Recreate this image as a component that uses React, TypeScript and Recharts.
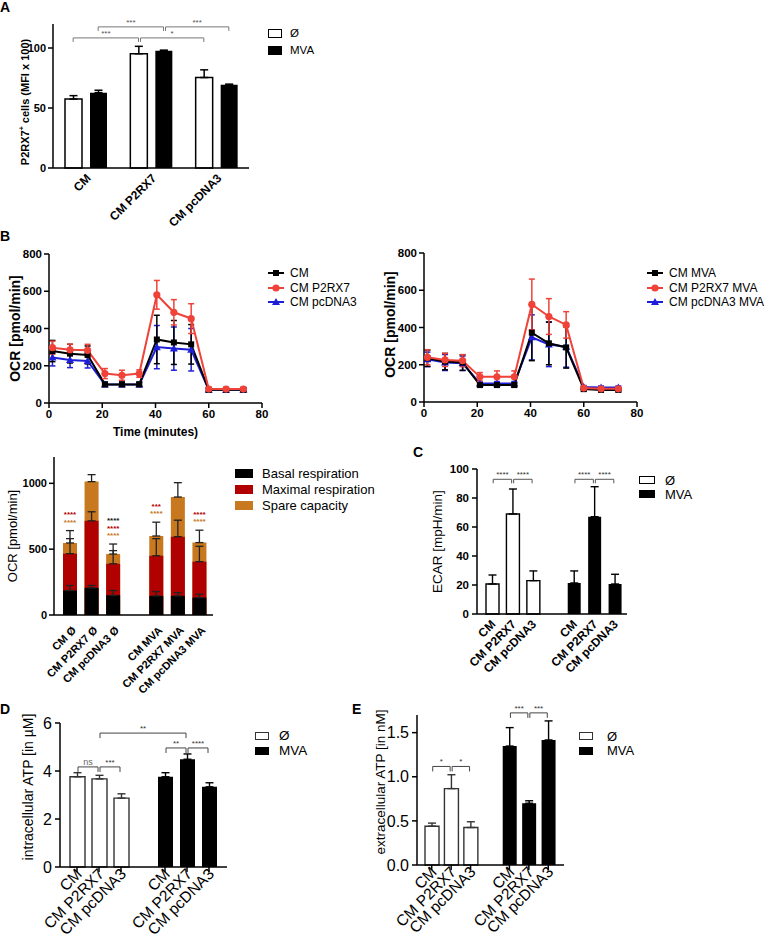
import React from "react";
import {
  Bar,
  BarChart,
  ErrorBar,
  LabelList,
  Legend,
  Line,
  LineChart,
  ReferenceLine,
  XAxis,
  YAxis,
} from "recharts";

const FONT = "'Liberation Sans', Arial, Helvetica, sans-serif";
const AXIS = { stroke: "#000", strokeWidth: 1.5 };

// ---------- A: P2RX7+ cells ----------
const aCategories = ["CM", "CM P2RX7", "CM pcDNA3"];
const aEmpty = [57.5, 95.2, 75.4];
const aEmptyErr = [2.8, 6.2, 6.4];
const aMva = [62.8, 97.8, 69.3];
const aMvaErr = [2, 0.4, 0.6];
const aTicks = [0, 50, 100];
const aBrackets = [
  { from: "CM", to: "CM P2RX7", y: 108.4, text: "***", series: "empty" },
  { from: "CM P2RX7", to: "CM pcDNA3", y: 108.4, text: "*", series: "empty" },
  { from: "CM", to: "CM P2RX7", y: 117.6, text: "***", series: "mva" },
  { from: "CM P2RX7", to: "CM pcDNA3", y: 117.6, text: "***", series: "mva" },
];

// ---------- B: OCR time courses ----------
const bTime = [1.3, 7.9, 14.5, 21, 27.4, 33.9, 40.5, 46.9, 53.4, 60, 66.5, 73];
const bCm = [279, 265, 258, 100, 100, 100, 341, 325, 315, 71, 71, 71];
const bCmErr = [57, 50, 48, 12, 12, 12, 130, 118, 106, 10, 10, 10];
const bP2 = [297, 286, 283, 158, 149, 158, 581, 487, 453, 75, 75, 75];
const bP2Err = [35, 30, 32, 27, 27, 20, 77, 68, 80, 8, 8, 8];
const bPc = [244, 231, 226, 100, 100, 100, 300, 292, 286, 71, 71, 71];
const bPcErr = [45, 41, 38, 10, 10, 10, 116, 116, 114, 8, 8, 8];

const bCmMva = [235, 217, 212, 91, 91, 91, 372, 315, 293, 69, 65, 65];
const bCmMvaErr = [44, 44, 42, 12, 12, 12, 150, 115, 111, 10, 10, 10];
const bP2Mva = [240, 226, 222, 135, 135, 135, 524, 459, 414, 75, 71, 71];
const bP2MvaErr = [40, 35, 32, 23, 32, 32, 136, 96, 71, 8, 8, 8];
const bPcMva = [229, 212, 208, 100, 100, 100, 347, 309, 297, 80, 78, 78];
const bPcMvaErr = [39, 43, 39, 10, 10, 10, 121, 119, 110, 8, 8, 8];
const bTimeTicks = [0, 20, 40, 60, 80];
const bOcrTicks = [0, 200, 400, 600, 800];

// ---------- B: respiration bars ----------
const sCategories = ["CM Ø", "CM P2RX7 Ø", "CM pcDNA3 Ø", "CM MVA", "CM P2RX7 MVA", "CM pcDNA3 MVA"];
const sBasal = [186, 206, 150, 145, 145, 132];
const sBasalErr = [38, 18, 36, 33, 25, 26];
const sMaximal = [466, 715, 389, 450, 595, 405];
const sMaximalErr = [114, 69, 100, 130, 125, 117];
const sSpare = [547, 1013, 463, 600, 896, 550];
const sSpareErr = [94, 53, 76, 105, 109, 94];
const sStarsBasal = ["", "", "****", "", "", ""];
const sStarsMaximal = ["****", "", "****", "***", "", "****"];
const sStarsSpare = ["****", "", "****", "****", "", "****"];
const sTicks = [0, 500, 1000];

// ---------- C / D / E ----------
const groupLabels = ["CM", "CM P2RX7", "CM pcDNA3"];

const cEmpty = [20.7, 69, 23];
const cEmptyErr = [6.2, 17.2, 6.7];
const cMva = [21.4, 67.1, 20.7];
const cMvaErr = [8.3, 20.7, 6.7];
const cTicks = [0, 20, 40, 60, 80, 100];
const cBrackets = [
  { from: "CM#0", to: "CM P2RX7#0", y: 92.9, text: "****" },
  { from: "CM P2RX7#0", to: "CM pcDNA3#0", y: 92.9, text: "****" },
  { from: "CM#1", to: "CM P2RX7#1", y: 92.9, text: "****" },
  { from: "CM P2RX7#1", to: "CM pcDNA3#1", y: 92.9, text: "****" },
];

const dEmpty = [3.76, 3.67, 2.87];
const dEmptyErr = [0.17, 0.15, 0.18];
const dMva = [3.76, 4.49, 3.34];
const dMvaErr = [0.17, 0.22, 0.17];
const dTicks = [0, 2, 4, 6];
const dBrackets = [
  { from: "CM#0", to: "CM P2RX7#0", y: 4.17, text: "ns" },
  { from: "CM P2RX7#0", to: "CM pcDNA3#0", y: 4.17, text: "***" },
  { from: "CM P2RX7#0", to: "CM P2RX7#1", y: 5.58, text: "**" },
  { from: "CM#1", to: "CM P2RX7#1", y: 4.96, text: "**" },
  { from: "CM P2RX7#1", to: "CM pcDNA3#1", y: 4.96, text: "****" },
];

const eEmpty = [0.44, 0.866, 0.425];
const eEmptyErr = [0.035, 0.157, 0.065];
const eMva = [1.348, 0.7, 1.417];
const eMvaErr = [0.209, 0.028, 0.216];
const eTicks = [0, 0.5, 1, 1.5];
const eBrackets = [
  { from: "CM#0", to: "CM P2RX7#0", y: 1.117, text: "*" },
  { from: "CM P2RX7#0", to: "CM pcDNA3#0", y: 1.117, text: "*" },
  { from: "CM#1", to: "CM P2RX7#1", y: 1.724, text: "***" },
  { from: "CM P2RX7#1", to: "CM pcDNA3#1", y: 1.724, text: "***" },
];

// ---------- helpers ----------
function yTitle(text: React.ReactNode, dx: number, size: number, weight: number, dy = 0) {
  return {
    content: (p: any) => {
      const vb = p.viewBox || { x: 0, y: 0, width: 0, height: 0 };
      const x = vb.x + dx;
      const y = vb.y + vb.height / 2 + dy;
      return (
        <text
          x={x}
          y={y}
          transform={`rotate(-90 ${x} ${y})`}
          textAnchor="middle"
          dominantBaseline="central"
          fontSize={size}
          fontWeight={weight}
          fontFamily={FONT}
          fill="#000"
        >
          {text}
        </text>
      );
    },
  };
}

function RotTick(props: any) {
  const { x, y, payload, fs, fw, dx = 0, dy = 0, mark } = props;
  const label = String(payload?.value ?? "").split("#")[0];
  if (!label || label === "gap") return null;
  const tx = x + dx;
  const ty = y + dy;
  return (
    <g>
      {mark && <line x1={x} x2={x} y1={y - 7} y2={y - 2} stroke="#000" strokeWidth={1.5} />}
      <text
        x={tx}
        y={ty}
        transform={`rotate(-45 ${tx} ${ty})`}
        textAnchor="end"
        fontSize={fs}
        fontWeight={fw}
        fontFamily={FONT}
        fill="#000"
      >
        {label}
      </text>
    </g>
  );
}

type BracketStyle = {
  color: string;
  textColor: string;
  fontSize: number;
  tick: number;
  dx1?: number;
  dx2?: number;
};

function bracketShape(text: string, s: BracketStyle) {
  return (p: any) => {
    const x1 = p.x1 + (s.dx1 ?? 0);
    const x2 = p.x2 + (s.dx2 ?? 0);
    const y = p.y1;
    return (
      <g>
        <path
          d={`M${x1},${y + s.tick}V${y}H${x2}V${y + s.tick}`}
          fill="none"
          stroke={s.color}
          strokeWidth={1}
        />
        <text
          x={(x1 + x2) / 2}
          y={y - 2}
          textAnchor="middle"
          fontSize={s.fontSize}
          fill={s.textColor}
          fontFamily={FONT}
        >
          {text}
        </text>
      </g>
    );
  };
}

function BoxLegend({ items, boxW, boxH, gap, rowH, fontSize }: any) {
  return (
    <div style={{ fontFamily: FONT, fontSize, color: "#000", lineHeight: 1 }}>
      {items.map((it: any) => (
        <div key={it.label} style={{ display: "flex", alignItems: "center", height: rowH }}>
          <span
            style={{
              display: "inline-block",
              width: boxW,
              height: boxH,
              background: it.fill,
              border: `1.2px solid ${it.stroke}`,
              boxSizing: "border-box",
            }}
          />
          <span style={{ marginLeft: gap, whiteSpace: "nowrap" }}>{it.label}</span>
        </div>
      ))}
    </div>
  );
}

function Marker({ kind, cx, cy, color }: any) {
  if (cx == null || cy == null) return null;
  if (kind === "square") return <rect x={cx - 3} y={cy - 3} width={6} height={6} fill={color} />;
  if (kind === "circle") return <circle cx={cx} cy={cy} r={3.6} fill={color} />;
  return <polygon points={`${cx},${cy - 4} ${cx - 4},${cy + 3} ${cx + 4},${cy + 3}`} fill={color} />;
}

function LineLegend({ items }: any) {
  return (
    <div style={{ fontFamily: FONT, fontSize: 12, color: "#000", lineHeight: 1 }}>
      {items.map((it: any) => (
        <div key={it.label} style={{ display: "flex", alignItems: "center", height: 14.5 }}>
          <svg width={16} height={10}>
            <line x1={0} x2={16} y1={5} y2={5} stroke={it.color} strokeWidth={2} />
            <Marker kind={it.marker} cx={8} cy={5} color={it.color} />
          </svg>
          <span style={{ marginLeft: 6, whiteSpace: "nowrap" }}>{it.label}</span>
        </div>
      ))}
    </div>
  );
}

const LEG = { layout: "vertical" as const, align: "center" as const, verticalAlign: "middle" as const };

// ---------- Panel A ----------
const A_BAR = 17;
const A_GAP = 8;
const rowsA = aCategories.map((c, i) => ({
  cat: c,
  empty: aEmpty[i],
  emptyErr: [0, aEmptyErr[i]],
  mva: aMva[i],
  mvaErr: [0, aMvaErr[i]],
}));

function PanelA() {
  const half = (A_BAR + A_GAP) / 2;
  return (
    <div style={{ position: "absolute", left: 0, top: 0 }}>
      <BarChart
        width={420}
        height={235}
        data={rowsA}
        margin={{ top: 24, right: 171, bottom: 7, left: 0 }}
        barSize={A_BAR}
        barGap={A_GAP}
      >
        <XAxis
          dataKey="cat"
          height={60}
          axisLine={AXIS}
          tickLine={false}
          interval={0}
          tick={<RotTick fs={12} fw={700} dx={6} dy={3} />}
        />
        <YAxis
          width={53}
          domain={[0, 120]}
          ticks={aTicks}
          axisLine={AXIS}
          tickLine={AXIS}
          tickSize={5}
          tick={{ fontSize: 11, fontWeight: 700, fill: "#000", fontFamily: FONT }}
          label={yTitle(
            <>
              P2RX7<tspan baselineShift="super" fontSize={7}>+</tspan> cells (MFI x 100)
            </>,
            25,
            11,
            700,
            6
          )}
        />
        <Bar dataKey="empty" name="Ø" fill="#fff" stroke="#000" strokeWidth={1.5} isAnimationActive={false}>
          <ErrorBar dataKey="emptyErr" width={4} stroke="#000" strokeWidth={1.5} direction="y" />
        </Bar>
        <Bar dataKey="mva" name="MVA" fill="#000" isAnimationActive={false}>
          <ErrorBar dataKey="mvaErr" width={4} stroke="#000" strokeWidth={1.5} direction="y" />
        </Bar>
        {aBrackets.map((b, i) => {
          const off = b.series === "empty" ? -half : half;
          const inset = i === 1 || i === 3 ? 2 : 0;
          return (
            <ReferenceLine
              key={`ab${i}`}
              segment={[
                { x: b.from, y: b.y },
                { x: b.to, y: b.y },
              ]}
              ifOverflow="visible"
              shape={bracketShape(b.text, {
                color: "#777",
                textColor: "#555",
                fontSize: 8,
                tick: 4,
                dx1: off + inset,
                dx2: off,
              })}
            />
          );
        })}
        <Legend
          {...LEG}
          wrapperStyle={{ left: 268, top: 25, width: "auto" }}
          content={() => (
            <BoxLegend
              items={[
                { label: "Ø", fill: "#fff", stroke: "#000" },
                { label: "MVA", fill: "#000", stroke: "#000" },
              ]}
              boxW={14}
              boxH={9}
              gap={8}
              rowH={17}
              fontSize={11.5}
            />
          )}
        />
      </BarChart>
    </div>
  );
}

// ---------- Panel B line charts ----------
function OcrLines({ left, top, width, height, margin, yWidth, titleDx, titleDy, xTitle, xHeight, legendLeft, legendTop, series }: any) {
  const rows = bTime.map((t, i) => {
    const r: any = { t };
    series.forEach((s: any) => {
      r[s.key] = s.values[i];
      r[`${s.key}Err`] = s.errors[i];
    });
    return r;
  });
  // draw order: blue, black, red
  const order = [2, 0, 1];
  return (
    <div style={{ position: "absolute", left, top }}>
      <LineChart width={width} height={height} data={rows} margin={margin}>
        <XAxis
          dataKey="t"
          type="number"
          domain={[0, 80]}
          ticks={bTimeTicks}
          height={xHeight}
          axisLine={AXIS}
          tickLine={AXIS}
          tickSize={5}
          tick={{ fontSize: 11.5, fontWeight: 700, fill: "#000", fontFamily: FONT }}
          label={
            xTitle
              ? {
                  content: (p: any) => {
                    const vb = p.viewBox || { x: 0, y: 0, width: 0 };
                    return (
                      <text
                        x={vb.x + vb.width / 2}
                        y={vb.y + 33}
                        textAnchor="middle"
                        fontSize={12}
                        fontWeight={700}
                        fontFamily={FONT}
                        fill="#000"
                      >
                        {xTitle}
                      </text>
                    );
                  },
                }
              : undefined
          }
        />
        <YAxis
          width={yWidth}
          domain={[0, 800]}
          ticks={bOcrTicks}
          axisLine={AXIS}
          tickLine={AXIS}
          tickSize={5}
          tick={{ fontSize: 11.5, fontWeight: 700, fill: "#000", fontFamily: FONT }}
          label={yTitle("OCR [pmol/min]", titleDx, 14, 700, titleDy)}
        />
        {order.map((idx) => {
          const s = series[idx];
          return (
            <Line
              key={s.key}
              dataKey={s.key}
              name={s.label}
              type="linear"
              stroke={s.color}
              strokeWidth={2}
              isAnimationActive={false}
              activeDot={false}
              dot={(d: any) => <Marker key={`${s.key}-${d.index}`} kind={s.marker} cx={d.cx} cy={d.cy} color={s.color} />}
            >
              <ErrorBar dataKey={`${s.key}Err`} width={3} stroke={s.color} strokeWidth={1.5} direction="y" />
            </Line>
          );
        })}
        <Legend
          {...LEG}
          wrapperStyle={{ left: legendLeft, top: legendTop, width: "auto" }}
          content={() => (
            <LineLegend items={series.map((s: any) => ({ label: s.label, color: s.color, marker: s.marker }))} />
          )}
        />
      </LineChart>
    </div>
  );
}

const BLACK = "#000";
const RED = "#ef4238";
const BLUE = "#1f1fd8";

// ---------- Panel B respiration ----------
const S_ORANGE = "#c8781e";
const S_RED = "#b00000";
const starColors = ["#111", S_RED, S_ORANGE];

const rowsS: any[] = [];
sCategories.forEach((c, i) => {
  if (i === 3) rowsS.push({ key: "gap" });
  rowsS.push({
    key: c,
    basal: sBasal[i],
    basalErr: [0, sBasalErr[i]],
    maximal: sMaximal[i],
    maximalErr: [0, sMaximalErr[i]],
    spare: sSpare[i],
    spareErr: [0, sSpareErr[i]],
    stars: [sStarsBasal[i], sStarsMaximal[i], sStarsSpare[i]],
  });
});
const barRowsS = rowsS.filter((r) => r.spare != null);

function StarRows(p: any) {
  const vb = p.viewBox || p;
  const { x, y, width, height } = vb;
  if (x == null || !height) return null;
  // match the label to its row through the plotted value
  const row =
    barRowsS.find((r) => r.spare === p.value) ?? barRowsS[p.index];
  if (!row) return null;
  const errTop = y - row.spareErr[1] * (height / row.spare);
  const list = row.stars
    .map((t: string, k: number) => ({ t, c: starColors[k] }))
    .filter((s: any) => s.t);
  const n = list.length;
  return (
    <g>
      {list.map((s: any, k: number) => (
        <text
          key={k}
          x={x + width / 2}
          y={errTop - 6 - (n - 1 - k) * 7.5}
          textAnchor="middle"
          fontSize={8}
          fontWeight={700}
          fill={s.c}
          fontFamily={FONT}
        >
          {s.t}
        </text>
      ))}
    </g>
  );
}

function PanelStacked() {
  const pad = { left: 5, right: 3 };
  return (
    <div style={{ position: "absolute", left: 0, top: 445 }}>
      <BarChart width={380} height={260} data={rowsS} margin={{ top: 12, right: 167, bottom: 5, left: 0 }} barSize={14}>
        <XAxis
          dataKey="key"
          height={85}
          padding={pad}
          axisLine={AXIS}
          tickLine={false}
          interval={0}
          tick={<RotTick fs={11} fw={700} dx={7} dy={8} />}
        />
        <XAxis xAxisId="r" dataKey="key" padding={pad} hide />
        <XAxis xAxisId="o" dataKey="key" padding={pad} hide />
        <YAxis
          width={54}
          domain={[0, 1200]}
          ticks={sTicks}
          axisLine={AXIS}
          tickLine={AXIS}
          tickSize={5}
          tick={{ fontSize: 11, fontWeight: 700, fill: "#000", fontFamily: FONT }}
          label={yTitle("OCR [pmol/min]", 12, 13, 400, 0)}
        />
        <Bar xAxisId="o" dataKey="spare" name="Spare capacity" fill={S_ORANGE} isAnimationActive={false}>
          <ErrorBar dataKey="spareErr" width={4} stroke="#222" strokeWidth={1.3} direction="y" />
          <LabelList dataKey="spare" content={StarRows} />
        </Bar>
        <Bar xAxisId="r" dataKey="maximal" name="Maximal respiration" fill={S_RED} isAnimationActive={false}>
          <ErrorBar dataKey="maximalErr" width={4} stroke="#222" strokeWidth={1.3} direction="y" />
        </Bar>
        <Bar dataKey="basal" name="Basal respiration" fill="#000" isAnimationActive={false}>
          <ErrorBar dataKey="basalErr" width={4} stroke="#222" strokeWidth={1.3} direction="y" />
        </Bar>
        <Legend
          {...LEG}
          wrapperStyle={{ left: 235, top: 20, width: "auto" }}
          content={() => (
            <BoxLegend
              items={[
                { label: "Basal respiration", fill: "#000", stroke: "#000" },
                { label: "Maximal respiration", fill: S_RED, stroke: S_RED },
                { label: "Spare capacity", fill: S_ORANGE, stroke: S_ORANGE },
              ]}
              boxW={18}
              boxH={9}
              gap={9}
              rowH={16}
              fontSize={13}
            />
          )}
        />
      </BarChart>
    </div>
  );
}

// ---------- C / D / E grouped panels ----------
function groupedRows(empty: number[], emptyErr: number[], mva: number[], mvaErr: number[]) {
  const rows: any[] = [];
  groupLabels.forEach((l, i) => rows.push({ key: `${l}#0`, empty: empty[i], emptyErr: [0, emptyErr[i]] }));
  rows.push({ key: "gap" });
  groupLabels.forEach((l, i) => rows.push({ key: `${l}#1`, mva: mva[i], mvaErr: [0, mvaErr[i]] }));
  return rows;
}

function GroupPanel(p: any) {
  return (
    <div style={{ position: "absolute", left: p.left, top: p.top }}>
      <BarChart width={p.width} height={p.height} data={p.rows} margin={p.margin} barSize={p.barSize}>
        <XAxis
          dataKey="key"
          height={p.xHeight}
          padding={p.padding}
          axisLine={AXIS}
          tickLine={false}
          tickSize={5}
          tickMargin={2}
          interval={0}
          tick={<RotTick fs={p.xFont} fw={p.xWeight} dx={p.xDx} dy={p.xDy} mark={p.tickMarks} />}
        />
        <XAxis xAxisId="m" dataKey="key" padding={p.padding} hide />
        <YAxis
          width={p.yWidth}
          domain={p.domain}
          ticks={p.ticks}
          axisLine={AXIS}
          tickLine={AXIS}
          tickSize={5}
          tickMargin={3}
          tickFormatter={p.tickFmt}
          tick={{ fontSize: p.yFont, fontWeight: p.yWeight, fill: "#000", fontFamily: FONT }}
          label={yTitle(p.title, p.titleDx, p.titleSize, 400, p.titleDy)}
        />
        <Bar dataKey="empty" name="Ø" fill="#fff" stroke={p.outline} strokeWidth={1.4} isAnimationActive={false}>
          <ErrorBar dataKey="emptyErr" width={4} stroke={p.outline} strokeWidth={1.4} direction="y" />
        </Bar>
        <Bar xAxisId="m" dataKey="mva" name="MVA" fill="#000" isAnimationActive={false}>
          <ErrorBar dataKey="mvaErr" width={4} stroke="#000" strokeWidth={1.4} direction="y" />
        </Bar>
        {p.brackets.map((b: any, i: number) => (
          <ReferenceLine
            key={`br${i}`}
            segment={[
              { x: b.from, y: b.y },
              { x: b.to, y: b.y },
            ]}
            ifOverflow="visible"
            shape={bracketShape(b.text, {
              color: p.bracketColor,
              textColor: b.text === "ns" ? "#666" : "#333",
              fontSize: b.text === "ns" ? 9 : 8,
              tick: p.bracketTick,
              dx1: 1,
              dx2: -1,
            })}
          />
        ))}
        <Legend
          {...LEG}
          wrapperStyle={{ left: p.legendLeft, top: p.legendTop, width: "auto" }}
          content={() => (
            <BoxLegend
              items={[
                { label: "Ø", fill: "#fff", stroke: p.outline },
                { label: "MVA", fill: "#000", stroke: "#000" },
              ]}
              boxW={p.legendBoxW}
              boxH={8}
              gap={p.legendGap}
              rowH={p.legendRow}
              fontSize={p.legendFont}
            />
          )}
        />
      </BarChart>
    </div>
  );
}

function Letter({ text, left, top }: any) {
  return (
    <div
      style={{
        position: "absolute",
        left,
        top,
        fontFamily: FONT,
        fontWeight: 700,
        fontSize: 14,
        lineHeight: 1,
        color: "#000",
      }}
    >
      {text}
    </div>
  );
}

export default function App() {
  return (
    <div
      style={{
        position: "absolute",
        left: 0,
        top: 0,
        width: 767,
        height: 941,
        background: "#fff",
        overflow: "hidden",
      }}
    >
      <Letter text="A" left={0} top={0} />
      <Letter text="B" left={0} top={229} />
      <Letter text="C" left={413} top={445} />
      <Letter text="D" left={0} top={702} />
      <Letter text="E" left={352} top={702} />

      <PanelA />

      <OcrLines
        left={0}
        top={245}
        width={380}
        height={200}
        margin={{ top: 9, right: 118, bottom: 2, left: 0 }}
        yWidth={49}
        titleDx={15}
        titleDy={0}
        xTitle="Time (minutes)"
        xHeight={40}
        legendLeft={268}
        legendTop={21}
        series={[
          { key: "cm", label: "CM", color: BLACK, marker: "square", values: bCm, errors: bCmErr },
          { key: "p2", label: "CM P2RX7", color: RED, marker: "circle", values: bP2, errors: bP2Err },
          { key: "pc", label: "CM pcDNA3", color: BLUE, marker: "triangle", values: bPc, errors: bPcErr },
        ]}
      />

      <OcrLines
        left={380}
        top={240}
        width={387}
        height={190}
        margin={{ top: 13, right: 130, bottom: 3, left: 0 }}
        yWidth={44}
        titleDx={10}
        titleDy={-3}
        xTitle={null}
        xHeight={25}
        legendLeft={267}
        legendTop={26}
        series={[
          { key: "cm", label: "CM MVA", color: BLACK, marker: "square", values: bCmMva, errors: bCmMvaErr },
          { key: "p2", label: "CM P2RX7 MVA", color: RED, marker: "circle", values: bP2Mva, errors: bP2MvaErr },
          { key: "pc", label: "CM pcDNA3 MVA", color: BLUE, marker: "triangle", values: bPcMva, errors: bPcMvaErr },
        ]}
      />

      <PanelStacked />

      <GroupPanel
        left={380}
        top={455}
        width={387}
        height={240}
        margin={{ top: 14, right: 140, bottom: 5, left: 0 }}
        rows={groupedRows(cEmpty, cEmptyErr, cMva, cMvaErr)}
        barSize={13}
        padding={{ left: 5, right: 2 }}
        xHeight={76}
        xFont={12}
        xWeight={700}
        xDx={4}
        xDy={4}
        tickMarks={false}
        yWidth={97}
        domain={[0, 100]}
        ticks={cTicks}
        yFont={11.5}
        yWeight={700}
        title="ECAR [mpH/min]"
        titleDx={57}
        titleDy={0}
        titleSize={13.5}
        outline="#000"
        brackets={cBrackets}
        bracketColor="#555"
        bracketTick={4}
        legendLeft={259}
        legendTop={18}
        legendBoxW={16}
        legendGap={10}
        legendRow={14}
        legendFont={13}
      />

      <GroupPanel
        left={0}
        top={700}
        width={380}
        height={241}
        margin={{ top: 23, right: 153, bottom: 2, left: 0 }}
        rows={groupedRows(dEmpty, dEmptyErr, dMva, dMvaErr)}
        barSize={15}
        padding={{ left: 6, right: 7 }}
        xHeight={72}
        xFont={15.5}
        xWeight={400}
        xDx={6}
        xDy={1}
        tickMarks={true}
        yWidth={60}
        domain={[0, 6]}
        ticks={dTicks}
        yFont={16}
        yWeight={400}
        title="intracellular ATP [in µM]"
        titleDx={28}
        titleDy={-8}
        titleSize={14}
        outline="#333"
        brackets={dBrackets}
        bracketColor="#444"
        bracketTick={5}
        legendLeft={255}
        legendTop={28}
        legendBoxW={14}
        legendGap={10}
        legendRow={15}
        legendFont={13.5}
      />

      <GroupPanel
        left={360}
        top={700}
        width={407}
        height={241}
        margin={{ top: 15, right: 203, bottom: 0, left: 0 }}
        rows={groupedRows(eEmpty, eEmptyErr, eMva, eMvaErr)}
        barSize={14}
        padding={{ left: 5, right: 6 }}
        xHeight={76}
        xFont={15.5}
        xWeight={400}
        xDx={6}
        xDy={1}
        tickMarks={true}
        yWidth={57}
        domain={[0, 1.7]}
        ticks={eTicks}
        tickFmt={(v: number) => v.toFixed(1)}
        yFont={16}
        yWeight={400}
        title="extracellular ATP [in nM]"
        titleDx={20}
        titleDy={-8}
        titleSize={13.5}
        outline="#333"
        brackets={eBrackets}
        bracketColor="#444"
        bracketTick={5}
        legendLeft={219}
        legendTop={29}
        legendBoxW={14}
        legendGap={14}
        legendRow={14.5}
        legendFont={13}
      />
    </div>
  );
}
